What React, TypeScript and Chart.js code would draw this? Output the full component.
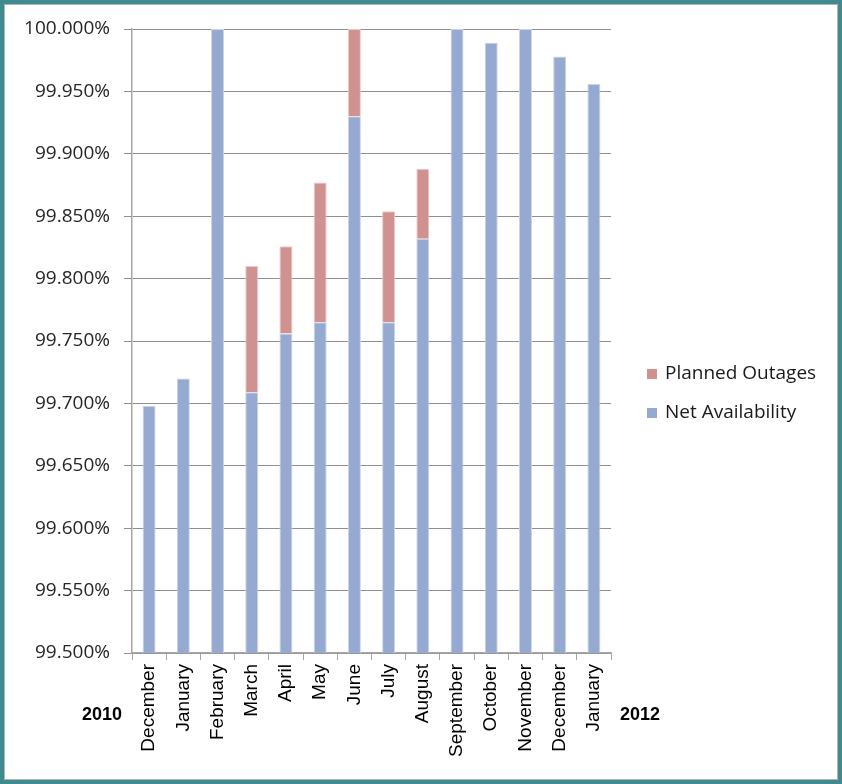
import React, { useEffect, useRef } from "react";
import { Chart, registerables } from "chart.js";

Chart.register(...registerables);

const categories = [
  "December", "January", "February", "March", "April", "May", "June",
  "July", "August", "September", "October", "November", "December", "January",
];
const netAvailability = [
  99.698, 99.72, 100.0, 99.709, 99.756, 99.765, 99.93,
  99.765, 99.832, 100.0, 99.989, 100.0, 99.978, 99.956,
];
const plannedOutages = [
  0, 0, 0, 0.101, 0.07, 0.112, 0.07,
  0.089, 0.056, 0, 0, 0, 0, 0,
];
const yearLabels = ["2010", "2012"];
const yMin = 99.5;
const yMax = 100.0;
const yStep = 0.05;

const BLUE = "#95a9d1";
const PINK = "#d09291";

const sideLegend = {
  id: "sideLegend",
  afterDraw(chart: any) {
    const { ctx, chartArea } = chart;
    const ds = [...chart.data.datasets].reverse();
    ctx.save();
    ctx.font = '19px "Open Sans"';
    ctx.textBaseline = "middle";
    ds.forEach((d: any, i: number) => {
      const y = chartArea.top + 345 + i * 39;
      ctx.fillStyle = d.backgroundColor;
      ctx.fillRect(chartArea.right + 36, y - 5, 10, 10);
      ctx.fillStyle = "#1a1a1a";
      ctx.textAlign = "left";
      ctx.fillText(d.label, chartArea.right + 54, y);
    });
    ctx.restore();
  },
};

const yearPlugin = {
  id: "yearPlugin",
  afterDraw(chart: any) {
    const { ctx, chartArea } = chart;
    ctx.save();
    ctx.font = 'bold 18px "Liberation Sans", Arial, sans-serif';
    ctx.fillStyle = "#000";
    ctx.textAlign = "center";
    ctx.textBaseline = "middle";
    ctx.fillText(yearLabels[0], chartArea.left - 30, chartArea.bottom + 62);
    ctx.fillText(yearLabels[1], chartArea.right + 29, chartArea.bottom + 62);
    ctx.restore();
  },
};

export default function App() {
  const ref = useRef<HTMLCanvasElement | null>(null);

  useEffect(() => {
    if (!ref.current) return;
    const chart = new Chart(ref.current, {
      type: "bar",
      data: {
        labels: categories,
        datasets: [
          {
            label: "Net Availability",
            data: netAvailability,
            backgroundColor: BLUE,
            borderColor: "#c9d4ea",
            borderWidth: 1,
            barPercentage: 0.38,
            categoryPercentage: 1,
          },
          {
            label: "Planned Outages",
            data: plannedOutages,
            backgroundColor: PINK,
            borderColor: "#ecc8c7",
            borderWidth: 1,
            barPercentage: 0.38,
            categoryPercentage: 1,
          },
        ],
      },
      options: {
        animation: false,
        responsive: false,
        devicePixelRatio: 1,
        layout: { padding: { top: 24, right: 226, left: 0, bottom: 0 } },
        plugins: {
          legend: { display: false },
          tooltip: { enabled: false },
        },
        scales: {
          x: {
            stacked: true,
            afterFit: (s: any) => {
              s.height = 126;
              s.paddingTop = 0;
              s.paddingBottom = 0;
            },
            grid: {
              drawOnChartArea: false,
              offset: true,
              tickLength: 7,
              color: "#a6a6a6",
            },
            border: { color: "#a6a6a6", width: 1.5 },
            ticks: {
              autoSkip: false,
              maxRotation: 90,
              minRotation: 90,
              padding: 4,
              color: "#000",
              font: { family: '"Liberation Sans", Arial, sans-serif', size: 19 },
            },
          },
          y: {
            stacked: true,
            min: yMin,
            max: yMax,
            afterFit: (s: any) => {
              s.width = 127;
              s.paddingTop = 0;
              s.paddingBottom = 0;
            },
            grid: { color: "#8f8f8f", tickLength: 8 },
            border: { color: "#a6a6a6", width: 1.5 },
            ticks: {
              stepSize: yStep,
              padding: 14,
              color: "#262626",
              font: { family: '"Open Sans"', size: 19 },
              callback: (v: any) => Number(v).toFixed(3) + "%",
            },
          },
        },
      },
      plugins: [sideLegend, yearPlugin],
    });
    return () => chart.destroy();
  }, []);

  return (
    <div
      style={{
        position: "absolute",
        left: 0,
        top: 0,
        width: 842,
        height: 784,
        boxSizing: "border-box",
        border: "4px solid #3f8b8e",
        background: "#fff",
      }}
    >
      <div
        style={{
          width: 834,
          height: 776,
          boxSizing: "border-box",
          border: "1px solid #b4b4b4",
        }}
      >
        <canvas ref={ref} width={832} height={774} style={{ display: "block" }} />
      </div>
    </div>
  );
}
